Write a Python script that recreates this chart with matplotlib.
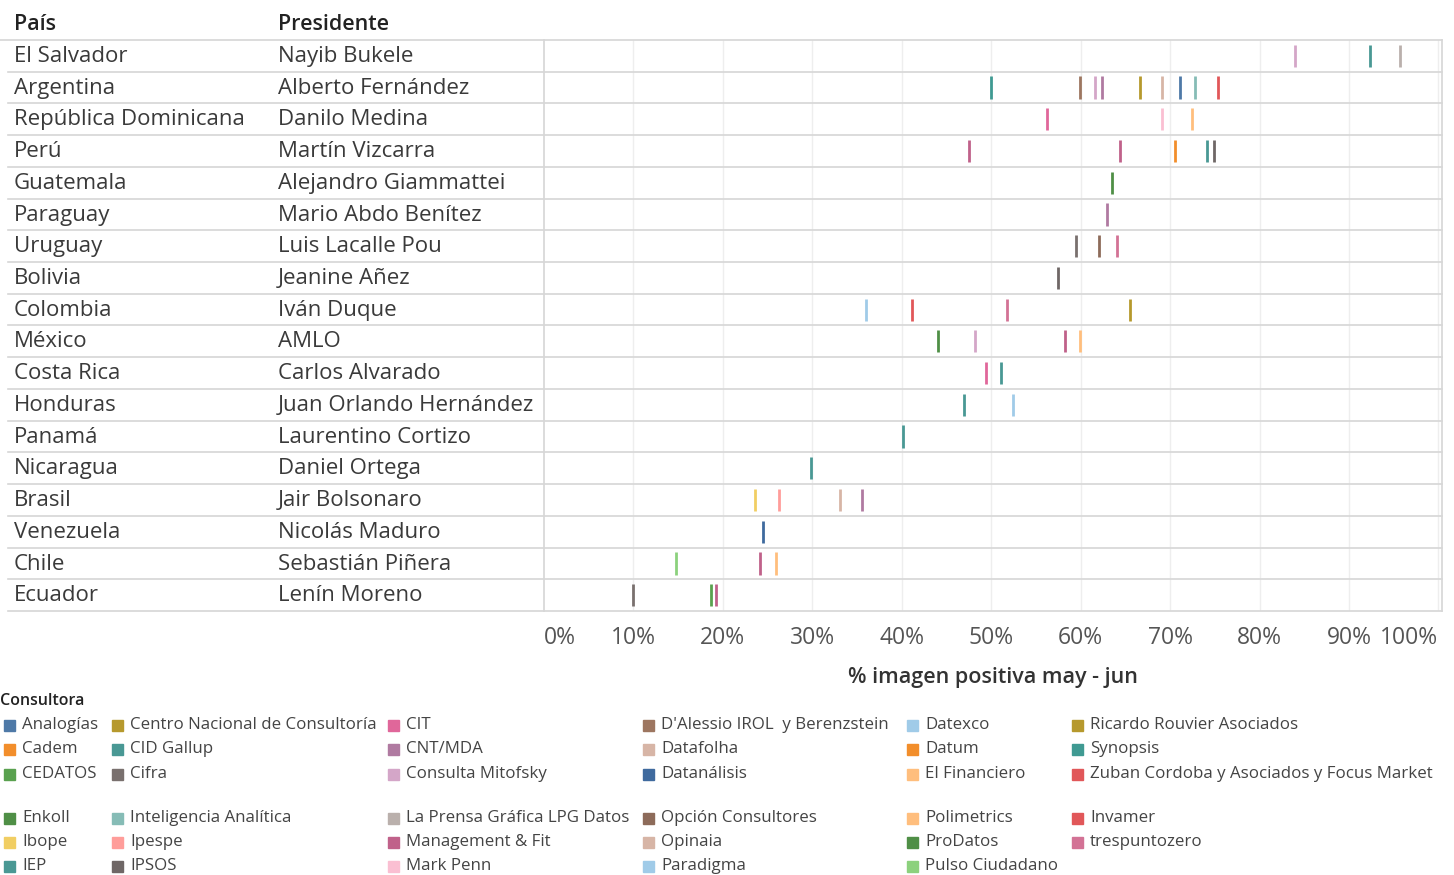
import matplotlib
matplotlib.use("Agg")
import matplotlib.pyplot as plt
from matplotlib.patches import Rectangle

plt.rcParams['font.family'] = ['Open Sans', 'DejaVu Sans']

# ---------------- data ----------------
paises = ["El Salvador", "Argentina", "República Dominicana", "Perú", "Guatemala",
          "Paraguay", "Uruguay", "Bolivia", "Colombia", "México", "Costa Rica",
          "Honduras", "Panamá", "Nicaragua", "Brasil", "Venezuela", "Chile", "Ecuador"]
presidentes = ["Nayib Bukele", "Alberto Fernández", "Danilo Medina", "Martín Vizcarra",
               "Alejandro Giammattei", "Mario Abdo Benítez", "Luis Lacalle Pou",
               "Jeanine Añez", "Iván Duque", "AMLO", "Carlos Alvarado",
               "Juan Orlando Hernández", "Laurentino Cortizo", "Daniel Ortega",
               "Jair Bolsonaro", "Nicolás Maduro", "Sebastián Piñera", "Lenín Moreno"]

# (país, consultora, % imagen positiva)
obs_pais = ["El Salvador", "El Salvador", "El Salvador",
            "Argentina", "Argentina", "Argentina", "Argentina", "Argentina",
            "Argentina", "Argentina", "Argentina", "Argentina",
            "República Dominicana", "República Dominicana", "República Dominicana",
            "Perú", "Perú", "Perú", "Perú", "Perú",
            "Guatemala", "Paraguay",
            "Uruguay", "Uruguay", "Uruguay",
            "Bolivia",
            "Colombia", "Colombia", "Colombia", "Colombia",
            "México", "México", "México", "México",
            "Costa Rica", "Costa Rica",
            "Honduras", "Honduras",
            "Panamá", "Nicaragua",
            "Brasil", "Brasil", "Brasil", "Brasil",
            "Venezuela",
            "Chile", "Chile", "Chile",
            "Ecuador", "Ecuador", "Ecuador"]
obs_consultora = ["Consulta Mitofsky", "CID Gallup", "La Prensa Gráfica LPG Datos",
                  "Synopsis", "D'Alessio IROL  y Berenzstein", "Consulta Mitofsky", "CNT/MDA",
                  "Ricardo Rouvier Asociados", "Opinaia", "Analogías", "Inteligencia Analítica",
                  "Zuban Cordoba y Asociados y Focus Market",
                  "CIT", "Mark Penn", "Polimetrics",
                  "Management & Fit", "Management & Fit", "Datum", "IEP", "IPSOS",
                  "ProDatos", "CNT/MDA",
                  "Cifra", "Opción Consultores", "trespuntozero",
                  "IPSOS",
                  "Datexco", "Invamer", "trespuntozero", "Centro Nacional de Consultoría",
                  "Enkoll", "Consulta Mitofsky", "Management & Fit", "El Financiero",
                  "CIT", "CID Gallup",
                  "CID Gallup", "Paradigma",
                  "CID Gallup", "CID Gallup",
                  "Ibope", "Ipespe", "Datafolha", "CNT/MDA",
                  "Datanálisis",
                  "Pulso Ciudadano", "Management & Fit", "Polimetrics",
                  "Cifra", "CEDATOS", "Management & Fit"]
obs_valor = [84.0, 92.4, 95.7,
             50.0, 59.9, 61.6, 62.4, 66.6, 69.1, 71.1, 72.8, 75.4,
             56.2, 69.1, 72.4,
             47.5, 64.4, 70.5, 74.1, 74.9,
             63.5, 63.0,
             59.5, 62.0, 64.1,
             57.5,
             36.0, 41.1, 51.8, 65.5,
             44.0, 48.2, 58.3, 59.9,
             49.4, 51.1,
             47.0, 52.4,
             40.1, 29.8,
             23.6, 26.3, 33.1, 35.6,
             24.5,
             14.8, 24.2, 25.9,
             10.0, 18.7, 19.2]

# legend (two blocks, column-major, 3 rows each)
legend_block1 = [["Analogías", "Cadem", "CEDATOS"],
                 ["Centro Nacional de Consultoría", "CID Gallup", "Cifra"],
                 ["CIT", "CNT/MDA", "Consulta Mitofsky"],
                 ["D'Alessio IROL  y Berenzstein", "Datafolha", "Datanálisis"],
                 ["Datexco", "Datum", "El Financiero"],
                 ["Ricardo Rouvier Asociados", "Synopsis", "Zuban Cordoba y Asociados y Focus Market"]]
legend_block2 = [["Enkoll", "Ibope", "IEP"],
                 ["Inteligencia Analítica", "Ipespe", "IPSOS"],
                 ["La Prensa Gráfica LPG Datos", "Management & Fit", "Mark Penn"],
                 ["Opción Consultores", "Opinaia", "Paradigma"],
                 ["Polimetrics", "ProDatos", "Pulso Ciudadano"],
                 ["Invamer", "trespuntozero"]]

colores = {
    "Analogías": "#4e79a7", "Cadem": "#f28e2b", "CEDATOS": "#59a14f",
    "Centro Nacional de Consultoría": "#b6992d", "CID Gallup": "#499894", "Cifra": "#79706e",
    "CIT": "#e0679a", "CNT/MDA": "#b07aa1", "Consulta Mitofsky": "#d4a6c8",
    "D'Alessio IROL  y Berenzstein": "#9d7660", "Datafolha": "#d7b5a6", "Datanálisis": "#3f6a9e",
    "Datexco": "#a0cbe8", "Datum": "#f28e2b", "El Financiero": "#ffbe7d",
    "Ricardo Rouvier Asociados": "#b6992d", "Synopsis": "#3f9a92",
    "Zuban Cordoba y Asociados y Focus Market": "#e15759",
    "Enkoll": "#4f8f46", "Ibope": "#f1ce63", "IEP": "#499894",
    "Inteligencia Analítica": "#86bcb6", "Ipespe": "#ff9d9a", "IPSOS": "#6f6766",
    "La Prensa Gráfica LPG Datos": "#bab0ac", "Management & Fit": "#c0618a", "Mark Penn": "#fabfd2",
    "Opción Consultores": "#8d6b5a", "Opinaia": "#d7b5a6", "Paradigma": "#a0cbe8",
    "Polimetrics": "#ffbe7d", "ProDatos": "#4f8f46", "Pulso Ciudadano": "#8cd17d",
    "Invamer": "#e15759", "trespuntozero": "#d37295",
}

ticks = [0, 10, 20, 30, 40, 50, 60, 70, 80, 90, 100]

# ---------------- figure ----------------
W, H = 1454, 875
fig = plt.figure(figsize=(W / 100, H / 100), dpi=100)
x0, x1, y0, y1 = 544, 1442, 40, 611
ax = fig.add_axes([x0 / W, 1 - y1 / H, (x1 - x0) / W, (y1 - y0) / H])

n = len(paises)
ax.set_ylim(n - 0.5, -0.5)
ax.set_xlim(0, 100.4)

# vertical gridlines
for t in ticks[1:]:
    ax.axvline(t, color="#eeeeee", lw=1, zorder=0)

# horizontal row separators extending across table columns
yt = ax.get_yaxis_transform()
for k in range(n + 1):
    xs = -0.597 if k > 0 else -0.606
    ax.plot([xs, 1.0], [k - 0.5, k - 0.5], transform=yt, color="#d6d6d6", lw=1.2,
            clip_on=False, zorder=1)

# marks
idx = {p: i for i, p in enumerate(paises)}
for p, c, v in zip(obs_pais, obs_consultora, obs_valor):
    i = idx[p]
    ax.vlines(v, i - 0.35, i + 0.35, color=colores[c], lw=2.0, zorder=3)

for s in ["top", "bottom"]:
    ax.spines[s].set_visible(False)
for s in ["left", "right"]:
    ax.spines[s].set_color("#d6d6d6")
    ax.spines[s].set_linewidth(1.2)

ax.set_yticks([])
ax.set_xticks(ticks)
ax.set_xticklabels([f"{t}%" for t in ticks], fontsize=16.5, color="#555555")
ax.tick_params(axis="x", length=0, pad=11)
lbls = ax.get_xticklabels()
lbls[0].set_ha("left")
lbls[-1].set_ha("right")
ax.set_xlabel("% imagen positiva may - jun", fontsize=15.5, color="#333333",
              fontweight="semibold", labelpad=12)

# table text
def fx(px):
    return (px - x0) / (x1 - x0)

for i, (p, pr) in enumerate(zip(paises, presidentes)):
    ax.text(fx(14), i + 0.02, p, transform=yt, ha="left", va="center", fontsize=16,
            color="#3a3a3a", clip_on=False)
    ax.text(fx(278), i + 0.02, pr, transform=yt, ha="left", va="center", fontsize=16,
            color="#3a3a3a", clip_on=False)

fig.text(14 / W, 1 - 25 / H, "País", ha="left", va="center", fontsize=15.5,
         color="#222222", fontweight="semibold")
fig.text(278 / W, 1 - 25 / H, "Presidente", ha="left", va="center", fontsize=15.5,
         color="#222222", fontweight="semibold")

# legend
fig.text(0 / W, 1 - 701 / H, "Consultora", ha="left", va="center", fontsize=11.5,
         color="#222222", fontweight="semibold")
col_x = [4, 112, 388, 643, 907, 1072]
rows1 = [725, 749, 774]
rows2 = [818, 842, 866]
sq = 11
for block, rows in ((legend_block1, rows1), (legend_block2, rows2)):
    for ci, col in enumerate(block):
        for ri, name in enumerate(col):
            cx, cy = col_x[ci], rows[ri]
            fig.patches.append(Rectangle((cx / W, 1 - (cy + sq / 2) / H), sq / W, sq / H,
                                         transform=fig.transFigure, color=colores[name]))
            fig.text((cx + 18) / W, 1 - cy / H, name, ha="left", va="center",
                     fontsize=12.2, color="#444444")

fig.savefig("out.png", dpi=100)
